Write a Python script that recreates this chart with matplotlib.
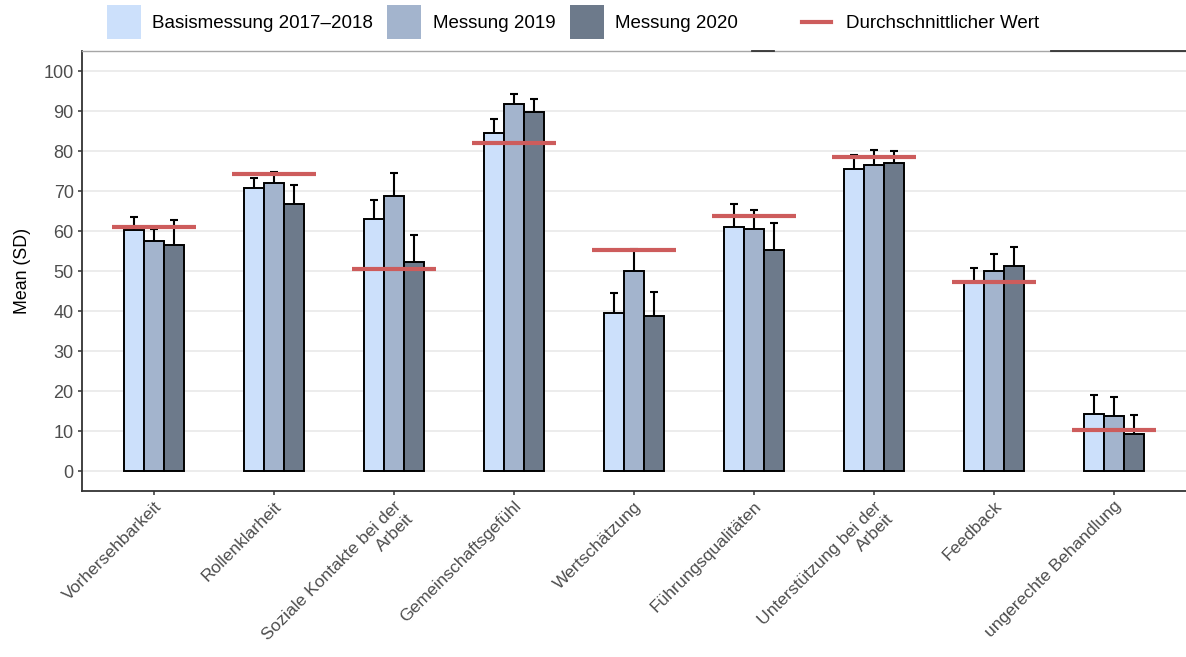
import matplotlib
matplotlib.use("Agg")
import matplotlib.pyplot as plt
import numpy as np
from matplotlib.lines import Line2D
from matplotlib.patches import Rectangle

plt.rcParams['font.family'] = ['Liberation Sans', 'DejaVu Sans']

categories = ["Vorhersehbarkeit", "Rollenklarheit", "Soziale Kontakte bei der\nArbeit",
              "Gemeinschaftsgefühl", "Wertschätzung", "Führungsqualitäten",
              "Unterstützung bei der\nArbeit", "Feedback", "ungerechte Behandlung"]
series_names = ["Basismessung 2017\u20132018", "Messung 2019", "Messung 2020"]
mean_basis = [60.2, 70.8, 63.0, 84.6, 39.4, 61.1, 75.4, 47.0, 14.2]
mean_2019 = [57.6, 71.9, 68.8, 91.8, 50.0, 60.5, 76.6, 49.9, 13.8]
mean_2020 = [56.6, 66.8, 52.3, 89.8, 38.8, 55.3, 76.9, 51.3, 9.3]
sd_basis = [3.4, 2.4, 4.7, 3.4, 5.0, 5.6, 3.5, 3.7, 4.9]
sd_2019 = [2.8, 2.8, 5.7, 2.4, 5.5, 4.8, 3.6, 4.3, 4.7]
sd_2020 = [6.1, 4.8, 6.7, 3.1, 5.9, 6.6, 3.1, 4.6, 4.7]
avg_value = [61.1, 74.3, 50.5, 82.0, 55.2, 63.8, 78.4, 47.3, 10.3]
avg_label = "Durchschnittlicher Wert"
yticks = list(range(0, 101, 10))

colors = ["#cce0fb", "#a3b4cd", "#6d7a8b"]
red = "#cd5c5c"

W, H = 1186, 657
fig = plt.figure(figsize=(W / 100, H / 100), dpi=100)
ax = fig.add_axes([82 / W, (H - 491) / H, (W - 82) / W, 440 / H])

x = np.arange(1, len(categories) + 1)
bw = 0.5 / 3
means = [mean_basis, mean_2019, mean_2020]
sds = [sd_basis, sd_2019, sd_2020]
for i in range(3):
    xi = x + (i - 1) * bw
    ax.errorbar(xi, means[i], yerr=sds[i], fmt='none', ecolor='black',
                elinewidth=1.5, capsize=3, capthick=1.5, zorder=2)
    ax.bar(xi, means[i], width=bw, color=colors[i], edgecolor='black',
           linewidth=1.4, zorder=3)
ax.hlines(avg_value, x - 0.35, x + 0.35, colors=red, linewidth=3, zorder=4)

ax.set_xlim(0.4, 9.6)
ax.set_ylim(-5, 105)
ax.set_yticks(yticks)
ax.set_yticklabels([str(v) for v in yticks])
ax.set_xticks(x)
ax.set_xticklabels(categories, rotation=45, ha='right', va='top',
                   rotation_mode='anchor', multialignment='right', fontsize=12.6)
ax.yaxis.grid(True, color='#ebebeb', linewidth=1.3, zorder=0)
ax.set_axisbelow(True)
for s in ['left', 'bottom']:
    ax.spines[s].set_color('#333333')
    ax.spines[s].set_linewidth(1.3)
ax.spines['right'].set_visible(False)
ax.spines['top'].set_color('#a6a6a6')
ax.spines['top'].set_linewidth(1.0)
ax.tick_params(axis='both', colors='#333333', length=3, width=1.1,
               labelcolor='#4d4d4d')
ax.tick_params(axis='y', pad=3, labelsize=13)
ax.tick_params(axis='x', pad=2.5)
ax.set_ylabel("Mean (SD)", fontsize=12.8, color='black', labelpad=9)

# top segments artefacts
for (x0, x1) in [(752, 774), (1051, 1186)]:
    fig.add_artist(Line2D([x0 / W, x1 / W], [(H - 51) / H] * 2, color='#333333',
                          linewidth=1.3, transform=fig.transFigure))

# legend
def fx(px):
    return px / W
def fy(py):
    return (H - py) / H
patch_x = [107, 387, 570]
text_x = [152, 433, 615]
for i in range(3):
    fig.add_artist(Rectangle((fx(patch_x[i]), fy(39)), 34 / W, 34 / H,
                             facecolor=colors[i], edgecolor='none',
                             transform=fig.transFigure))
    fig.text(fx(text_x[i]), fy(23), series_names[i], fontsize=13.5,
             va='center', ha='left', color='black')
fig.add_artist(Line2D([fx(802), fx(831)], [fy(22)] * 2, color=red, linewidth=3,
                      transform=fig.transFigure))
fig.text(fx(846), fy(23), avg_label, fontsize=13.5, va='center', ha='left', color='black')

fig.savefig("out.png", dpi=100)
